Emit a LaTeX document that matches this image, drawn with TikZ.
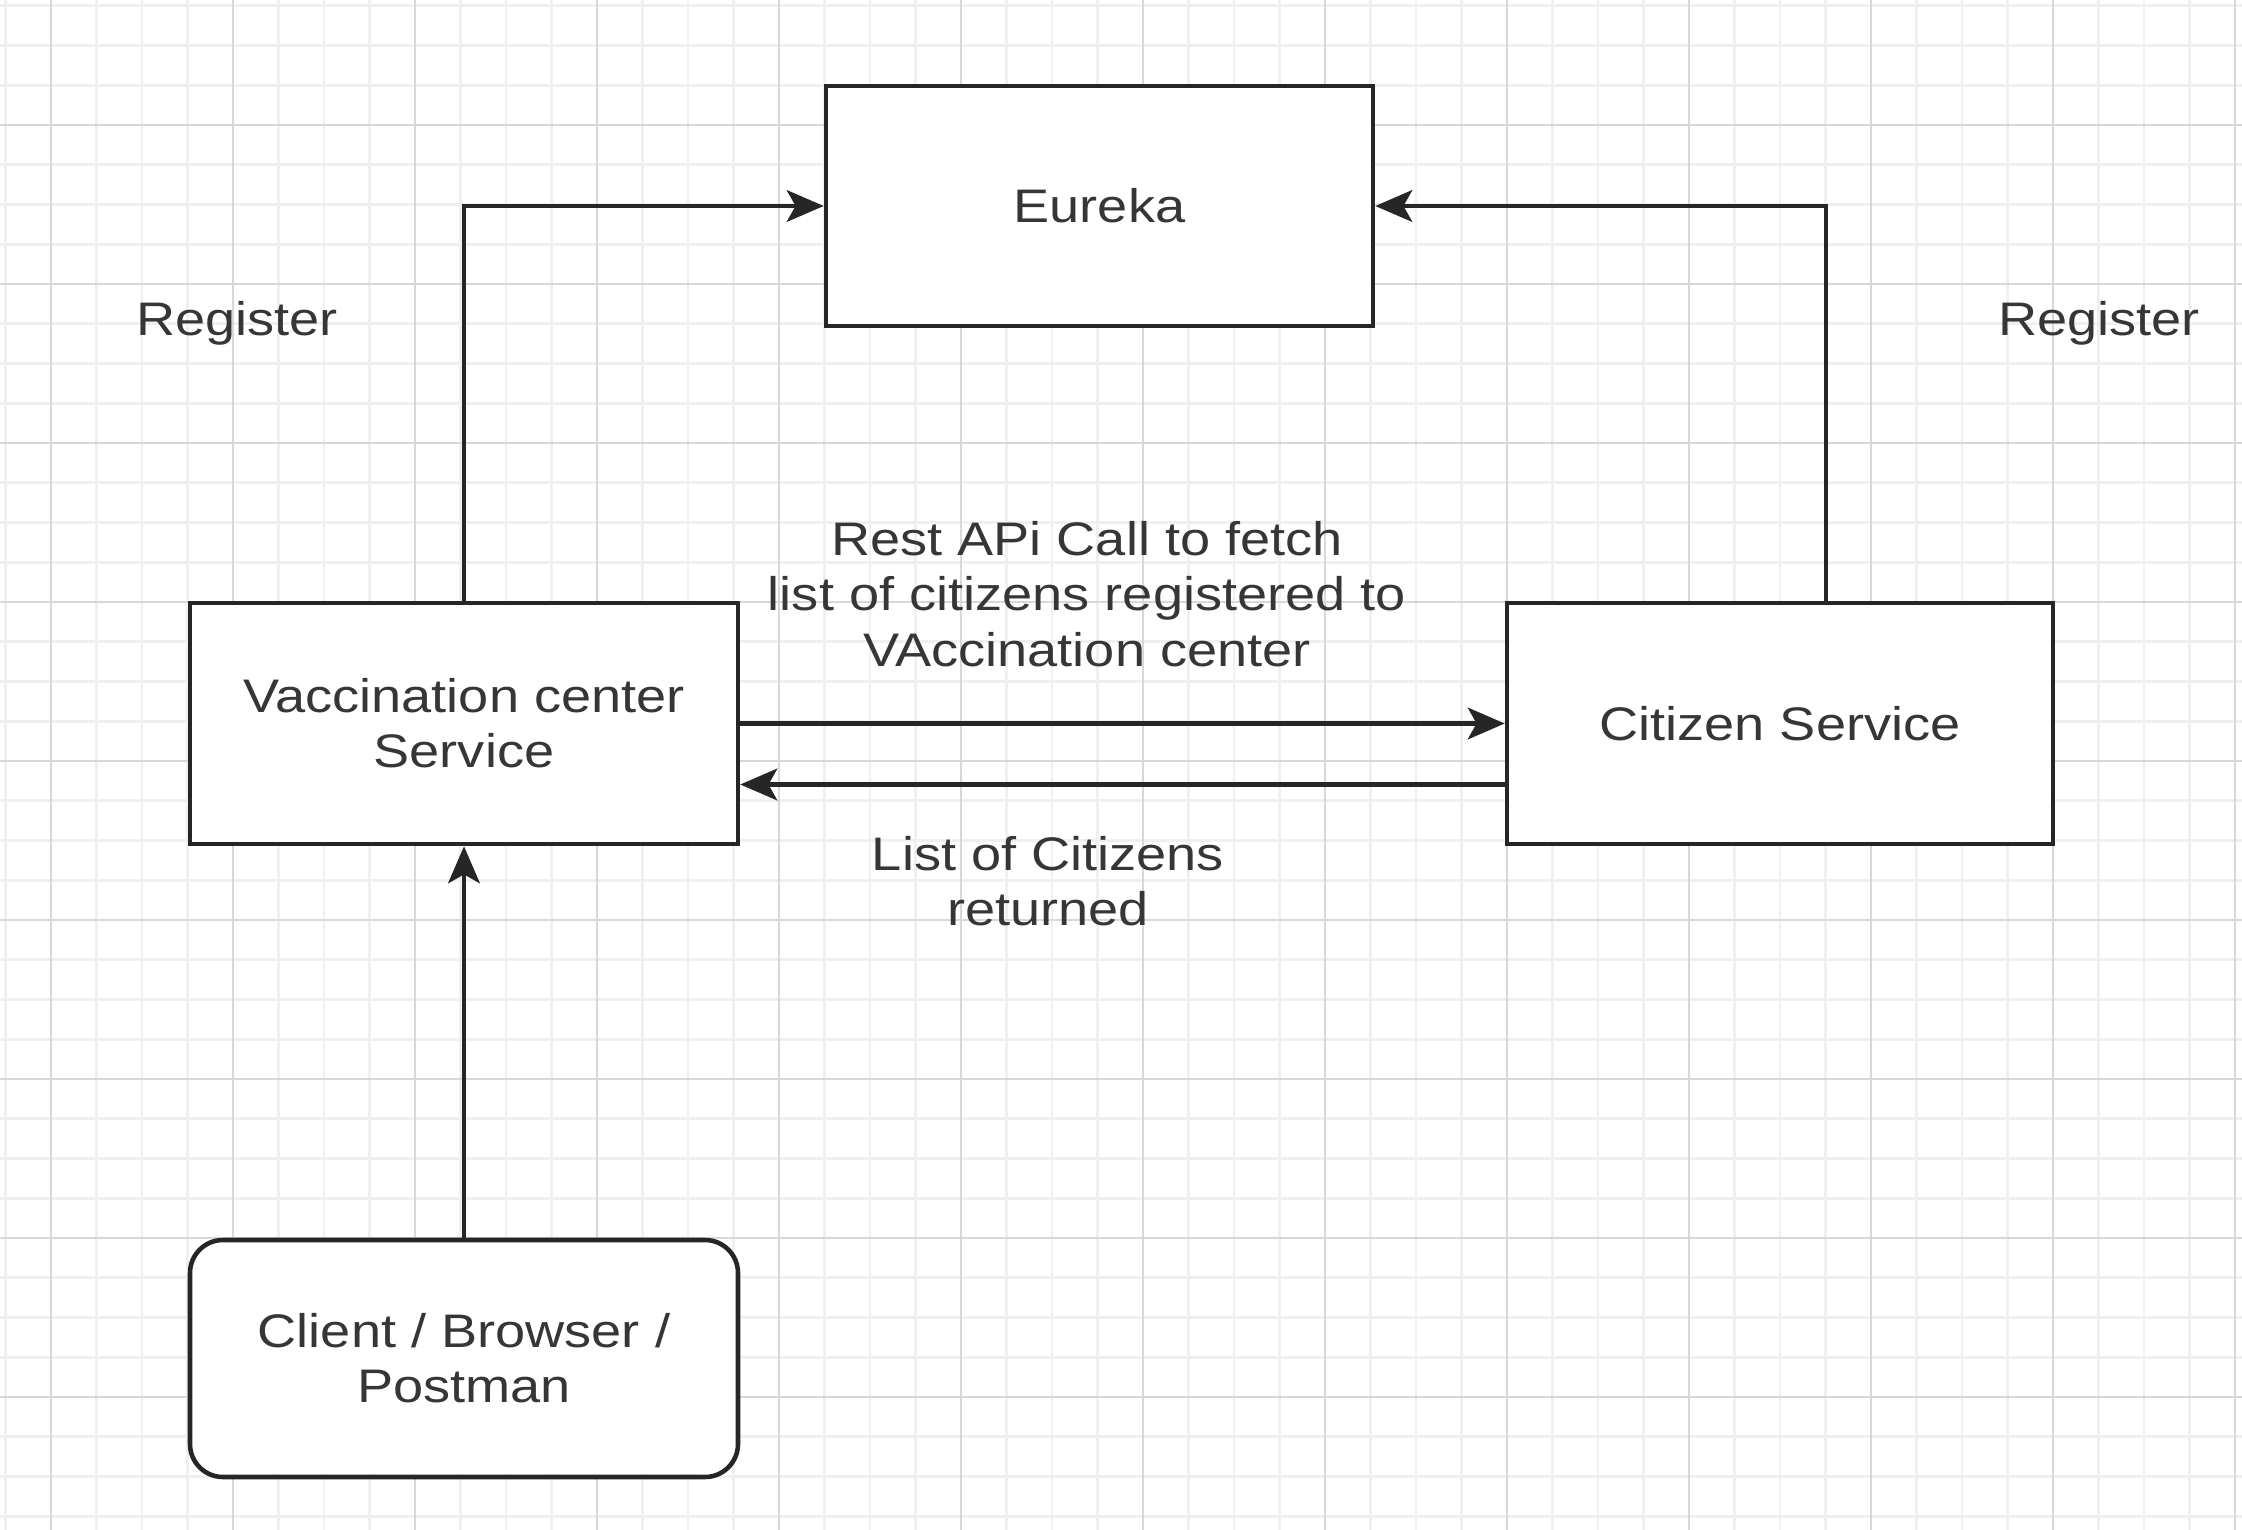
\documentclass[tikz,border=0pt]{standalone}
\usepackage{fontspec}
\setmainfont{Liberation Sans}[FakeStretch=1.15]
\usetikzlibrary{calc, arrows.meta}
\definecolor{gridminor}{HTML}{F0F0F0}
\definecolor{gridmajor}{HTML}{D8D8D8}
\definecolor{ink}{HTML}{262626}
\definecolor{txt}{HTML}{363636}
\tikzset{
  font=\fontsize{13.4}{15.7}\selectfont,
  % Set arrowhead
  >={Stealth[length=10.5pt, width=9pt, inset=2.5pt]},
  % Service box
  svc/.style={draw=ink, fill=white, line width=1.3pt, text=txt,
    align=center, inner sep=2pt},
  % Client box
  client/.style={svc, rounded corners=0.33cm},
  % Free label
  lbl/.style={text=txt, align=center, inner sep=0pt},
  % Connector
  flow/.style={->, draw=ink, line width=1.3pt},
}

\begin{document}
\begin{tikzpicture}
    \useasboundingbox (0,0) rectangle (22.42,-15.30);
    \fill[white] (0,0) rectangle (22.42,-15.30);

    % background grid
    \begin{scope}
      \clip (0,0) rectangle (22.42,-15.30);
      \foreach \i in {0,...,49}
        \draw[gridminor, line width=0.8pt] (0.055+0.455*\i,0) -- ++(0,-15.30);
      \foreach \j in {0,...,38}
        \draw[gridminor, line width=0.8pt] (0,-0.0575-0.3975*\j) -- ++(22.42,0);
      \foreach \i in {0,...,12}
        \draw[gridmajor, line width=0.8pt] (0.51+1.82*\i,0) -- ++(0,-15.30);
      \foreach \j in {0,...,8}
        \draw[gridmajor, line width=0.8pt] (0,-1.25-1.59*\j) -- ++(22.42,0);
    \end{scope}

    \node[svc, minimum width=5.47cm, minimum height=2.40cm] (eureka) at (10.995,-2.06) {Eureka};
    \node[svc, minimum width=5.48cm, minimum height=2.41cm] (vac) at (4.64,-7.235) {Vaccination center\\Service};
    \node[svc, minimum width=5.46cm, minimum height=2.41cm] (cit) at (17.80,-7.235) {Citizen Service};
    \node[client, minimum width=5.48cm, minimum height=2.37cm] (cli) at (4.64,-13.585) {Client / Browser /\\Postman};

    \node[lbl] (regl) at (2.37,-3.23) {Register};
    \node[lbl] (regr) at (20.99,-3.23) {Register};
    \node[lbl] (req) at (10.87,-5.94) {Rest APi Call to fetch\\list of citizens registered to\\VAccination center};
    \node[lbl] (resp) at (10.48,-8.81) {List of Citizens\\returned};

    \draw[flow] (vac.north) |- (eureka.west);
    \draw[flow] ([xshift=0.46cm]cit.north) |- (eureka.east);
    \draw[flow] (vac.east) -- (cit.west);
    \draw[flow] ([yshift=-0.61cm]cit.west) -- ([yshift=-0.61cm]vac.east);
    \draw[flow] (cli.north) -- (vac.south);
\end{tikzpicture}
\end{document}
